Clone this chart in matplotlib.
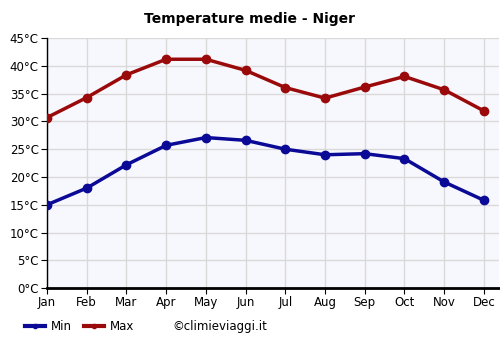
import matplotlib.pyplot as plt
from matplotlib.lines import Line2D

# Monthly averages
months = ['Jan', 'Feb', 'Mar', 'Apr', 'May', 'Jun', 'Jul', 'Aug', 'Sep', 'Oct', 'Nov', 'Dec']
t_min = [15.0, 18.0, 22.2, 25.7, 27.1, 26.6, 25.0, 24.0, 24.2, 23.3, 19.1, 15.8]
t_max = [30.7, 34.3, 38.4, 41.2, 41.2, 39.2, 36.1, 34.2, 36.2, 38.1, 35.7, 31.9]
y_ticks = list(range(0, 50, 5))

fig = plt.figure(figsize=(5, 3.5), dpi=100)
ax = fig.add_axes([0.094, 0.177, 0.904, 0.714])
ax.set_facecolor('#f7f8fe')

x = range(len(months))
ax.plot(x, t_min, color='#0a0a96', lw=2.5, marker='o', ms=6, zorder=3)
ax.plot(x, t_max, color='#9b0a0a', lw=2.5, marker='o', ms=6, zorder=3)

ax.set_xlim(0, 11.38)
ax.set_ylim(0, 45)
ax.set_xticks(list(x))
ax.set_xticklabels(months)
ax.set_yticks(y_ticks)
ax.set_yticklabels([f'{v}°C' for v in y_ticks])
ax.grid(True, color='#d9d9d9', lw=1)
ax.set_axisbelow(True)
ax.tick_params(labelsize=8.5, length=4, color='black', pad=2)
for s in ['top', 'right']:
    ax.spines[s].set_visible(False)
ax.spines['left'].set_linewidth(1)
ax.spines['bottom'].set_linewidth(2)

fig.text(0.5, 0.935, 'Temperature medie - Niger', ha='center', fontsize=10, fontweight='bold')

handles = [Line2D([0], [0], color='#0a0a96', lw=3, marker='o', ms=3),
           Line2D([0], [0], color='#9b0a0a', lw=3, marker='o', ms=3)]
fig.legend(handles, ['Min', 'Max'], loc='center left', bbox_to_anchor=(0.05, 0.068),
           ncol=2, frameon=False, fontsize=8.5, handlelength=1.7, columnspacing=1.0,
           handletextpad=0.5, borderpad=0, borderaxespad=0)
fig.text(0.345, 0.068, '©climieviaggi.it', va='center', fontsize=8.5)

fig.savefig('out.png', dpi=100)
